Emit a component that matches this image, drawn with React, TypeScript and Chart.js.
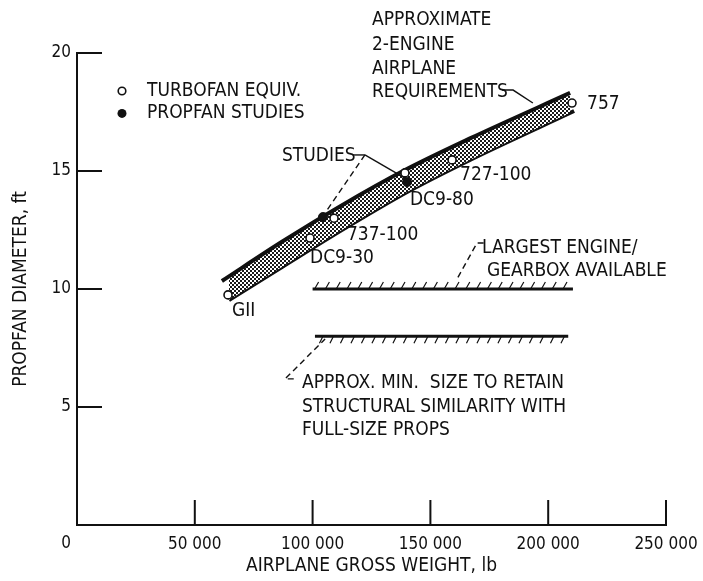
import React, { useEffect, useRef } from 'react';
import { Chart, registerables } from 'chart.js';

Chart.register(...registerables);

const FONT = '"Liberation Sans Narrow", "DejaVu Sans Condensed", "Roboto Condensed", "Liberation Sans", sans-serif';
const INK = '#111';

// Band: approximate 2-engine airplane requirements (upper / lower edges)
const upperX = [61500, 87000, 111600, 139200, 166800, 209300];
const upperY = [10.34, 12.0, 13.5, 15.04, 16.38, 18.31];
const lowerX = [64500, 87000, 113800, 140100, 166800, 211000];
const lowerY = [9.53, 10.93, 12.58, 14.11, 15.47, 17.54];

// Turbofan equivalents (open circles)
const turbofanNames = ['GII', 'DC9-30', '737-100', 'DC9-80', '727-100', '757'];
const turbofanX = [64100, 98900, 109100, 139200, 159200, 210100];
const turbofanY = [9.75, 12.16, 13.0, 14.92, 15.47, 17.88];

// Propfan studies (filled circles)
const propfanX = [104400, 140100];
const propfanY = [13.05, 14.53];

// Limit lines
const largestEngineX = [100000, 210500];
const largestEngineY = [10, 10];
const minSizeX = [101000, 208500];
const minSizeY = [8, 8];

// Axis ticks
const xTickValues = [0, 50000, 100000, 150000, 200000, 250000];
const xTickLabels = ['0', '50 000', '100 000', '150 000', '200 000', '250 000'];
const yTickValues = [0, 5, 10, 15, 20];
const yTickLabels = ['', '5', '10', '15', '20'];

// Annotation texts: [text, x value, y value]
const annotations: [string, number, number][] = [
  ['APPROXIMATE', 125200, 21.4],
  ['2-ENGINE', 125200, 20.34],
  ['AIRPLANE', 125200, 19.32],
  ['REQUIREMENTS', 125200, 18.35],
  ['757', 216500, 17.84],
  ['727-100', 162600, 14.83],
  ['DC9-80', 141300, 13.77],
  ['STUDIES', 87000, 15.64],
  ['737-100', 114600, 12.29],
  ['DC9-30', 98900, 11.31],
  ['GII', 65800, 9.07],
  ['LARGEST ENGINE/', 171900, 11.74],
  ['GEARBOX AVAILABLE', 174000, 10.76],
  ['APPROX. MIN.  SIZE TO RETAIN', 95500, 6.02],
  ['STRUCTURAL SIMILARITY WITH', 95500, 5.0],
  ['FULL-SIZE PROPS', 95500, 4.03],
];

const legendLabels = ['TURBOFAN EQUIV.', 'PROPFAN STUDIES'];

const pts = (xs: number[], ys: number[]) => xs.map((x, i) => ({ x, y: ys[i] }));

export default function App() {
  const ref = useRef<HTMLCanvasElement | null>(null);

  useEffect(() => {
    const canvas = ref.current;
    if (!canvas) return;

    const tile = document.createElement('canvas');
    tile.width = 4;
    tile.height = 4;
    const tc = tile.getContext('2d')!;
    tc.fillStyle = '#fff';
    tc.fillRect(0, 0, 4, 4);
    tc.fillStyle = '#1a1a1a';
    tc.fillRect(0, 0, 2, 2);
    tc.fillRect(2, 2, 2, 2);
    const pattern = canvas.getContext('2d')!.createPattern(tile, 'repeat')!;

    const annotPlugin = {
      id: 'annot',
      afterDraw(chart: any) {
        const { ctx, chartArea } = chart;
        const xs = chart.scales.x;
        const ys = chart.scales.y;
        const px = (v: number) => xs.getPixelForValue(v);
        const py = (v: number) => ys.getPixelForValue(v);
        ctx.save();
        ctx.strokeStyle = INK;
        ctx.fillStyle = INK;
        ctx.lineCap = 'butt';

        // inward tick marks
        ctx.lineWidth = 2;
        ctx.beginPath();
        yTickValues.forEach((v) => {
          if (v === 0) return;
          ctx.moveTo(chartArea.left, py(v));
          ctx.lineTo(chartArea.left + 25, py(v));
        });
        xTickValues.forEach((v) => {
          if (v === 0) return;
          ctx.moveTo(px(v), chartArea.bottom);
          ctx.lineTo(px(v), chartArea.bottom - 25);
        });
        ctx.stroke();

        // origin label
        ctx.font = `17px ${FONT}`;
        ctx.textAlign = 'center';
        ctx.textBaseline = 'middle';
        ctx.fillText(xTickLabels[0], px(0) - 11, chartArea.bottom + 19);

        // hatch marks
        ctx.lineWidth = 1.2;
        ctx.beginPath();
        const x0 = px(largestEngineX[0]) + 2;
        const x1 = px(largestEngineX[1]) - 2;
        const yA = py(largestEngineY[0]);
        for (let x = x0; x < x1; x += 10.8) {
          ctx.moveTo(x, yA);
          ctx.lineTo(x + 4, yA - 7);
        }
        const m0 = px(minSizeX[0]) + 8;
        const m1 = px(minSizeX[1]);
        const yB = py(minSizeY[0]);
        for (let x = m0; x < m1; x += 10.5) {
          ctx.moveTo(x, yB);
          ctx.lineTo(x - 3.5, yB + 7);
        }
        ctx.stroke();

        // texts
        ctx.font = `19px ${FONT}`;
        ctx.textAlign = 'left';
        ctx.textBaseline = 'middle';
        annotations.forEach(([t, x, y]) => ctx.fillText(t, px(x), py(y)));

        // legend
        const lx = px(19100);
        const lt = px(29700);
        const ly1 = py(18.39);
        const ly2 = py(17.44);
        ctx.fillText(legendLabels[0], lt, ly1);
        ctx.fillText(legendLabels[1], lt, ly2);
        ctx.lineWidth = 1.6;
        ctx.beginPath();
        ctx.arc(lx, ly1, 3.8, 0, Math.PI * 2);
        ctx.fillStyle = '#fff';
        ctx.fill();
        ctx.stroke();
        ctx.beginPath();
        ctx.arc(lx, ly2, 4.5, 0, Math.PI * 2);
        ctx.fillStyle = INK;
        ctx.fill();

        // leaders
        const poly = (p: number[][], dash: number[]) => {
          ctx.setLineDash(dash);
          ctx.beginPath();
          p.forEach(([x, y], i) => (i ? ctx.lineTo(px(x), py(y)) : ctx.moveTo(px(x), py(y))));
          ctx.stroke();
        };
        ctx.lineWidth = 1.4;
        poly([[180400, 18.43], [185100, 18.43], [193500, 17.88]], []);
        poly([[117100, 15.68], [122200, 15.68]], []);
        poly([[122200, 15.68], [105300, 13.22]], [6, 4]);
        poly([[122200, 15.68], [139200, 14.7]], []);
        poly([[172600, 11.95], [169800, 11.95], [161300, 10.42]], [6, 4]);
        poly([[92000, 6.19], [88300, 6.19], [105300, 7.88]], [6, 4]);
        ctx.setLineDash([]);
        ctx.restore();
      },
    };

    const chart = new Chart(canvas, {
      type: 'scatter',
      data: {
        datasets: [
          {
            label: 'upper',
            data: pts(upperX, upperY),
            showLine: true,
            cubicInterpolationMode: 'monotone',
            borderColor: INK,
            borderWidth: 4,
            pointRadius: 0,
            backgroundColor: pattern as any,
            fill: '+1',
            order: 3,
          },
          {
            label: 'lower',
            data: pts(lowerX, lowerY),
            showLine: true,
            cubicInterpolationMode: 'monotone',
            borderColor: INK,
            borderWidth: 4,
            pointRadius: 0,
            fill: false,
            order: 3,
          },
          {
            label: legendLabels[0],
            data: pts(turbofanX, turbofanY),
            pointRadius: 4,
            pointBackgroundColor: '#fff',
            pointBorderColor: INK,
            pointBorderWidth: 1.6,
            order: 1,
          },
          {
            label: legendLabels[1],
            data: pts(propfanX, propfanY),
            pointRadius: 4.5,
            pointBackgroundColor: INK,
            pointBorderColor: INK,
            pointBorderWidth: 1,
            order: 0,
          },
          {
            label: 'largest engine',
            data: pts(largestEngineX, largestEngineY),
            showLine: true,
            borderColor: INK,
            borderWidth: 3,
            pointRadius: 0,
            order: 2,
          },
          {
            label: 'min size',
            data: pts(minSizeX, minSizeY),
            showLine: true,
            borderColor: INK,
            borderWidth: 3,
            pointRadius: 0,
            order: 2,
          },
        ],
      },
      options: {
        responsive: false,
        animation: false,
        events: [],
        layout: { padding: { top: 53, right: 37, left: 0, bottom: 0 } },
        plugins: { legend: { display: false }, tooltip: { enabled: false } },
        scales: {
          x: {
            type: 'linear',
            min: 0,
            max: 250000,
            afterBuildTicks: (s: any) => {
              s.ticks = xTickValues.map((v) => ({ value: v }));
            },
            afterFit: (s: any) => {
              s.height = 56;
              s.paddingRight = 0;
              s.paddingLeft = 0;
            },
            grid: { display: false, drawTicks: false },
            border: { display: true, color: INK, width: 2 },
            ticks: {
              color: INK,
              font: { family: FONT, size: 17 },
              padding: 9,
              maxRotation: 0,
              autoSkip: false,
              callback: (v: any) => {
                const i = xTickValues.indexOf(Number(v));
                return i <= 0 ? '' : xTickLabels[i];
              },
            },
            title: {
              display: true,
              text: 'AIRPLANE GROSS WEIGHT, lb',
              color: INK,
              font: { family: FONT, size: 19 },
              padding: { top: 0, bottom: 4 },
            },
          },
          y: {
            type: 'linear',
            min: 0,
            max: 20,
            afterBuildTicks: (s: any) => {
              s.ticks = yTickValues.map((v) => ({ value: v }));
            },
            afterFit: (s: any) => {
              s.width = 77;
              s.paddingTop = 0;
              s.paddingBottom = 0;
            },
            grid: { display: false, drawTicks: false },
            border: { display: true, color: INK, width: 2 },
            ticks: {
              color: INK,
              font: { family: FONT, size: 17 },
              padding: 6,
              autoSkip: false,
              callback: (v: any) => {
                const i = yTickValues.indexOf(Number(v));
                return i < 0 ? '' : yTickLabels[i];
              },
            },
            title: {
              display: true,
              text: 'PROPFAN DIAMETER, ft',
              color: INK,
              font: { family: FONT, size: 19 },
              padding: { top: 10, bottom: 0 },
            },
          },
        },
      },
      plugins: [annotPlugin],
    });

    return () => chart.destroy();
  }, []);

  return (
    <div style={{ position: 'absolute', left: 0, top: 0, width: 703, height: 581, background: '#fff' }}>
      <canvas ref={ref} width={703} height={581} style={{ width: 703, height: 581, display: 'block' }} />
    </div>
  );
}
